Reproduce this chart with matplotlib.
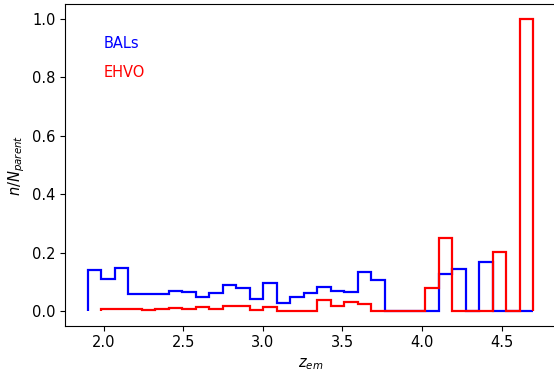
# fração de BALs e EHVOs por redshift
import matplotlib.pyplot as plt
import numpy as np

# bordas dos bins em z_em
bordas = np.linspace(1.9, 4.7, 34)

bal = [0.140, 0.108, 0.148, 0.057, 0.059, 0.057, 0.067, 0.064, 0.048, 0.061,
       0.089, 0.080, 0.042, 0.097, 0.028, 0.047, 0.063, 0.082, 0.070, 0.065,
       0.134, 0.107, 0.0, 0.0, 0.0, 0.0, 0.128, 0.145, 0.0, 0.168,
       0.0, 0.0, 0.0]

# EHVO começa no segundo bin
ehvo = [0.008, 0.007, 0.006, 0.003, 0.006, 0.011, 0.008, 0.013, 0.008,
        0.018, 0.018, 0.002, 0.014, 0.0, 0.0, 0.0, 0.039, 0.018, 0.032,
        0.023, 0.0, 0.0, 0.0, 0.0, 0.080, 0.250, 0.0, 0.0, 0.0,
        0.201, 0.0, 1.0]

plt.rcParams["font.size"] = 10.5

fig = plt.figure(figsize=(5.54, 3.72), dpi=100)
axe = fig.add_axes([0.1182, 0.1247, 0.885, 0.8634])

axe.stairs(bal, bordas, baseline=0, fill=False, color="blue", lw=1.6)
axe.stairs(ehvo, bordas[1:], baseline=0, fill=False, color="red", lw=1.6)

axe.text(2.0, 0.9, "BALs", color="blue")
axe.text(2.0, 0.8, "EHVO", color="red")

axe.set_xlim(1.76, 4.84)
axe.set_ylim(-0.05, 1.05)
axe.set_xlabel("$z_{em}$")
axe.set_ylabel("$n/N_{parent}$")

fig.savefig("out.png", dpi=100)
